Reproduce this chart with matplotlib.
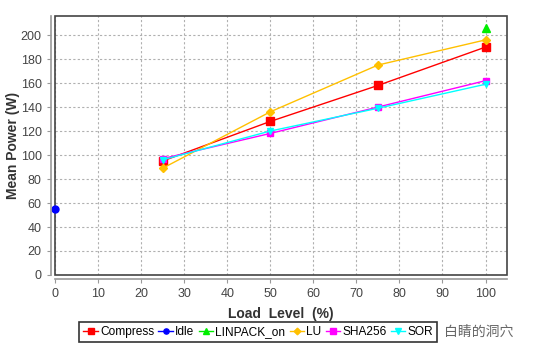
import numpy as np
import matplotlib.pyplot as plt
from matplotlib.patches import Rectangle

plt.rcParams['font.family'] = ['Liberation Sans', 'DejaVu Sans']

# data
load = [25, 50, 75, 100]
compress = [95, 128, 158, 190]
idle_x = [0]
idle = [55]
linpack_x = [100]
linpack = [206]
lu = [89, 136, 175, 196]
sha256 = [97, 118, 140, 162]
sor = [96, 120, 139, 159]

fig = plt.figure(figsize=(5.46, 3.53), dpi=100)
ax = fig.add_axes([0.1007, 0.221, 0.828, 0.734])

ax.plot(load, compress, color='#ff0000', marker='s', ms=6, lw=1, label='Compress')
ax.plot(idle_x, idle, color='#0000ff', marker='o', ms=5, lw=1, label='Idle', clip_on=False)
ax.plot(linpack_x, linpack, color='#00ee00', marker='^', ms=6, lw=1, label='LINPACK_on')
ax.plot(load, lu, color='#ffc000', marker='D', ms=4.5, lw=1, label='LU')
ax.plot(load, sha256, color='#ff00ff', marker='s', ms=5, lw=1, label='SHA256')
ax.plot(load, sor, color='#00ffff', marker='v', ms=5, lw=1, label='SOR')

ax.set_xlim(0, 105)
ax.set_ylim(0, 216)
ax.set_xticks(np.arange(0, 101, 10))
ax.set_yticks(np.arange(0, 201, 20))
ax.grid(True, color='#b0b0b0', ls=(0, (2, 2)), lw=0.8)
ax.set_axisbelow(True)

for s in ['top', 'right']:
    ax.spines[s].set_visible(False)
for s in ['left', 'bottom']:
    ax.spines[s].set_position(('outward', 3))
    ax.spines[s].set_color('#999999')
    ax.spines[s].set_linewidth(1.2)
ax.add_patch(Rectangle((0, 0), 1, 1, transform=ax.transAxes, fill=False,
                       edgecolor='#444444', lw=1.2, clip_on=False))

ax.tick_params(colors='#999999', labelcolor='#444444', labelsize=9, length=3)
ax.set_xlabel('Load  Level  (%)', fontsize=10, fontweight='bold', color='#333333', labelpad=5)
ax.set_ylabel('Mean Power (W)', fontsize=10, fontweight='bold', color='#333333')
ax.yaxis.set_label_coords(-0.077, 0.5)

leg = fig.legend(loc='center', bbox_to_anchor=(0.473, 0.06), ncol=6, fontsize=8.6,
                 frameon=True, fancybox=False, edgecolor='black', handlelength=1.2,
                 handletextpad=0.2, columnspacing=0.35, borderpad=0.35, borderaxespad=0,
                 markerscale=0.75)
leg.get_frame().set_linewidth(1.2)

fig.text(0.877, 0.06, '白睛的洞穴', fontsize=10, color='#666666', ha='center', va='center',
         family=['Noto Sans CJK SC', 'DejaVu Sans'])

fig.savefig('out.png', dpi=100)
